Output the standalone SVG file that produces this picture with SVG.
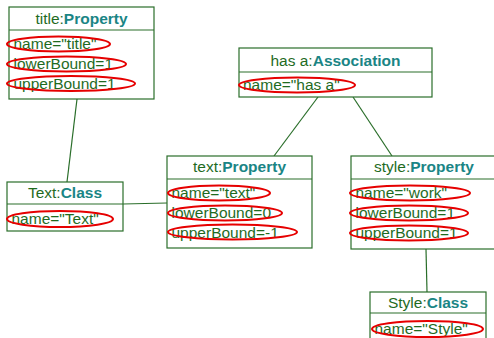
<svg xmlns="http://www.w3.org/2000/svg" width="494" height="338" viewBox="0 0 494 338">
<style>
.box{fill:#ffffff;stroke:#2a6e2a;stroke-width:1.2}
.sep{stroke:#2a6e2a;stroke-width:1.2}
.t{font-family:"Liberation Sans",Arial,sans-serif;font-size:15.5px;fill:#1f6b1f}
.c{text-anchor:middle}
.b{font-weight:bold;fill:#1a8585}
.e{fill:none;stroke:#e60000;stroke-width:2}
.ln{stroke:#2a6e2a;stroke-width:1.2;fill:none}
</style>
<rect width="494" height="338" fill="#ffffff"/>
<g id="connectors">
<line class="ln" x1="77" y1="99" x2="67" y2="182"/>
<line class="ln" x1="123" y1="204" x2="167" y2="203"/>
<line class="ln" x1="318" y1="97" x2="274" y2="156"/>
<line class="ln" x1="353" y1="97" x2="392" y2="156"/>
<line class="ln" x1="426" y1="249" x2="427" y2="292"/>
</g>
<g id="title-property">
<rect class="box" x="9" y="7" width="145" height="92"/>
<line class="sep" x1="9" y1="30" x2="154" y2="30"/>
<text class="t c" x="81.5" y="24">title:<tspan class="b">Property</tspan></text>
<text class="t" x="13.5" y="49">name="title"</text>
<text class="t" x="13.5" y="69">lowerBound=1</text>
<text class="t" x="13.5" y="88.5">upperBound=1</text>
<ellipse class="e" cx="58.5" cy="44" rx="51.5" ry="7.5"/>
<ellipse class="e" cx="66.5" cy="64" rx="59.5" ry="7.5"/>
<ellipse class="e" cx="71" cy="83.5" rx="64" ry="7.5"/>
</g>
<g id="hasa-association">
<rect class="box" x="239" y="48" width="193" height="49"/>
<line class="sep" x1="239" y1="72" x2="432" y2="72"/>
<text class="t c" x="335.5" y="66">has a:<tspan class="b">Association</tspan></text>
<text class="t" x="243" y="90">name="has a"</text>
<ellipse class="e" cx="297" cy="85" rx="58" ry="7.5"/>
</g>
<g id="text-class">
<rect class="box" x="7" y="182" width="116" height="49"/>
<line class="sep" x1="7" y1="204" x2="123" y2="204"/>
<text class="t c" x="65" y="198">Text:<tspan class="b">Class</tspan></text>
<text class="t" x="11.5" y="224">name="Text"</text>
<ellipse class="e" cx="60" cy="219" rx="53" ry="8"/>
</g>
<g id="text-property">
<rect class="box" x="167" y="156" width="145" height="92"/>
<line class="sep" x1="167" y1="179" x2="312" y2="179"/>
<text class="t c" x="239.5" y="172">text:<tspan class="b">Property</tspan></text>
<text class="t" x="171.5" y="198">name="text"</text>
<text class="t" x="171.5" y="218">lowerBound=0</text>
<text class="t" x="171.5" y="237.5">upperBound=-1</text>
<ellipse class="e" cx="219" cy="193" rx="51" ry="7.5"/>
<ellipse class="e" cx="225" cy="213" rx="57" ry="7.5"/>
<ellipse class="e" cx="232.5" cy="232" rx="64.5" ry="7.5"/>
</g>
<g id="style-property">
<rect class="box" x="351" y="156" width="146" height="93"/>
<line class="sep" x1="351" y1="179" x2="497" y2="179"/>
<text class="t c" x="424" y="172">style:<tspan class="b">Property</tspan></text>
<text class="t" x="355.5" y="198">name="work"</text>
<text class="t" x="355.5" y="218">lowerBound=1</text>
<text class="t" x="355.5" y="238">upperBound=1</text>
<ellipse class="e" cx="410" cy="193" rx="60" ry="7.5"/>
<ellipse class="e" cx="409" cy="213" rx="59" ry="7.5"/>
<ellipse class="e" cx="409" cy="233" rx="59" ry="7.5"/>
</g>
<g id="style-class">
<rect class="box" x="370" y="292" width="116" height="60"/>
<line class="sep" x1="370" y1="313" x2="486" y2="313"/>
<text class="t c" x="428" y="308">Style:<tspan class="b">Class</tspan></text>
<text class="t" x="374.5" y="334">name="Style"</text>
<ellipse class="e" cx="427.5" cy="329" rx="55.5" ry="8"/>
</g>
</svg>
